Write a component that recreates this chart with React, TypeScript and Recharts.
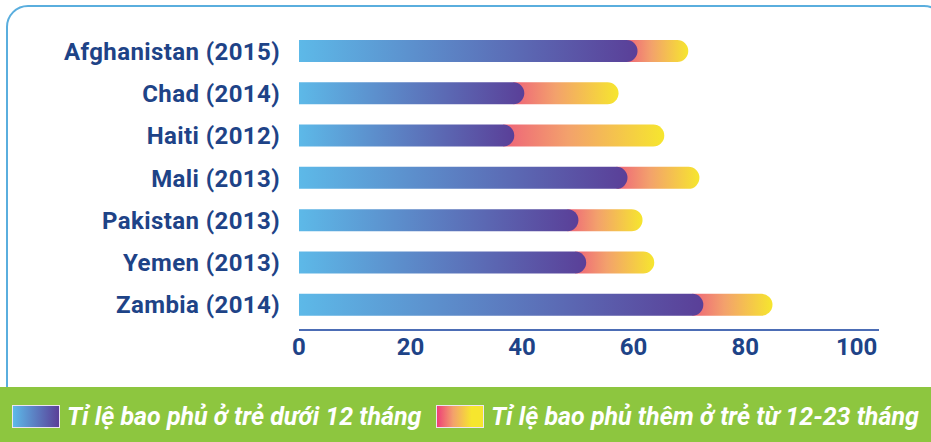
import { Bar, BarChart, XAxis, YAxis } from "recharts";

const countries = [
  "Afghanistan (2015)",
  "Chad (2014)",
  "Haiti (2012)",
  "Mali (2013)",
  "Pakistan (2013)",
  "Yemen (2013)",
  "Zambia (2014)"
];
const under12 = [60.7, 40.4, 38.6, 58.9, 50.1, 51.5, 72.5];
const extra = [9.1, 16.9, 26.9, 12.9, 11.5, 12.2, 12.4];
const xTicks = [0, 20, 40, 60, 80, 100];
const legendLabels = [
  "Tỉ lệ bao phủ ở trẻ dưới 12 tháng",
  "Tỉ lệ bao phủ thêm ở trẻ từ 12-23 tháng"
];

const data = countries.map((name, i) => ({
  name,
  under12: under12[i],
  total: under12[i] + extra[i]
}));

const navy = "#1E4387";
const labelFont = "Roboto, 'DejaVu Sans', sans-serif";

function roundedRight(x: number, y: number, w: number, h: number) {
  const r = Math.min(h / 2, Math.max(w, 0));
  return `M${x},${y} H${x + w - r} A${r},${r} 0 0 1 ${x + w},${y + r} V${y + h - r} A${r},${r} 0 0 1 ${x + w - r},${y + h} H${x} Z`;
}

function BlueShape(props: any) {
  const { x, y, width, height } = props;
  return <path d={roundedRight(x, y, width, height)} fill="url(#gradBlue)" />;
}

function WarmShape(props: any) {
  const { x, y, width, height, payload } = props;
  // starts a little under the rounded end of the first bar
  const start = x + (width * payload.under12) / payload.total - height / 2;
  return (
    <path
      d={roundedRight(start, y, x + width - start, height)}
      fill="url(#gradWarm)"
    />
  );
}

export default function App() {
  return (
    <div
      style={{
        position: "absolute",
        left: 0,
        top: 0,
        width: 931,
        height: 442,
        overflow: "hidden",
        background: "#fff"
      }}
    >
      <div
        style={{
          position: "absolute",
          left: 6,
          top: 5,
          width: 940,
          height: 420,
          border: "2px solid #5AAEDE",
          borderRadius: "22px 22px 0 0",
          boxSizing: "border-box"
        }}
      />
      <div style={{ position: "absolute", left: 0, top: 0 }}>
        <BarChart
          width={931}
          height={387}
          data={data}
          layout="vertical"
          margin={{ top: 30, right: 52, bottom: 27, left: 0 }}
          barSize={22}
          barGap={-22}
        >
          <defs>
            <linearGradient id="gradBlue" x1="0" y1="0" x2="1" y2="0">
              <stop offset="0%" stopColor="#5DB9E8" />
              <stop offset="100%" stopColor="#5A3F98" />
            </linearGradient>
            <linearGradient id="gradWarm" x1="0" y1="0" x2="1" y2="0">
              <stop offset="0%" stopColor="#EE6479" />
              <stop offset="40%" stopColor="#F3A16C" />
              <stop offset="100%" stopColor="#F6E62E" />
            </linearGradient>
          </defs>
          <XAxis
            type="number"
            domain={[0, 104]}
            ticks={xTicks}
            tickLine={false}
            tickMargin={2}
            height={30}
            axisLine={{ stroke: "#4C6DB5", strokeWidth: 2 }}
            tick={{ fill: navy, fontSize: 24, fontWeight: 700, fontFamily: labelFont }}
          />
          <YAxis
            type="category"
            dataKey="name"
            width={299}
            axisLine={false}
            tickLine={false}
            tickMargin={13}
            padding={{ top: 0, bottom: 4 }}
            tick={{
              fill: navy,
              fontSize: 24,
              fontWeight: 700,
              fontFamily: labelFont,
              letterSpacing: 0.4
            }}
          />
          <Bar dataKey="total" shape={WarmShape} isAnimationActive={false} />
          <Bar dataKey="under12" shape={BlueShape} isAnimationActive={false} />
        </BarChart>
      </div>
      <div
        style={{
          position: "absolute",
          left: 0,
          top: 387,
          width: 931,
          height: 55,
          background: "#8DC63F"
        }}
      >
        {legendLabels.map((label, i) => (
          <div
            key={label}
            style={{
              position: "absolute",
              left: i === 0 ? 12 : 436,
              top: 18,
              display: "flex",
              alignItems: "center",
              height: 23
            }}
          >
            <div
              style={{
                width: 48,
                height: 23,
                boxSizing: "border-box",
                border: "1px solid #ECE4F2",
                background:
                  i === 0
                    ? "linear-gradient(to right, #5DB9E8, #5A3F98)"
                    : "linear-gradient(to right, #EE3F78, #F3A16C 35%, #F6E62E 75%)"
              }}
            />
            <span
              style={{
                marginLeft: 7,
                color: "#fff",
                fontFamily: "'Liberation Sans Narrow', Roboto, sans-serif",
                fontStyle: "italic",
                fontWeight: 700,
                fontSize: 25,
                lineHeight: "23px",
                whiteSpace: "nowrap"
              }}
            >
              {label}
            </span>
          </div>
        ))}
      </div>
    </div>
  );
}
